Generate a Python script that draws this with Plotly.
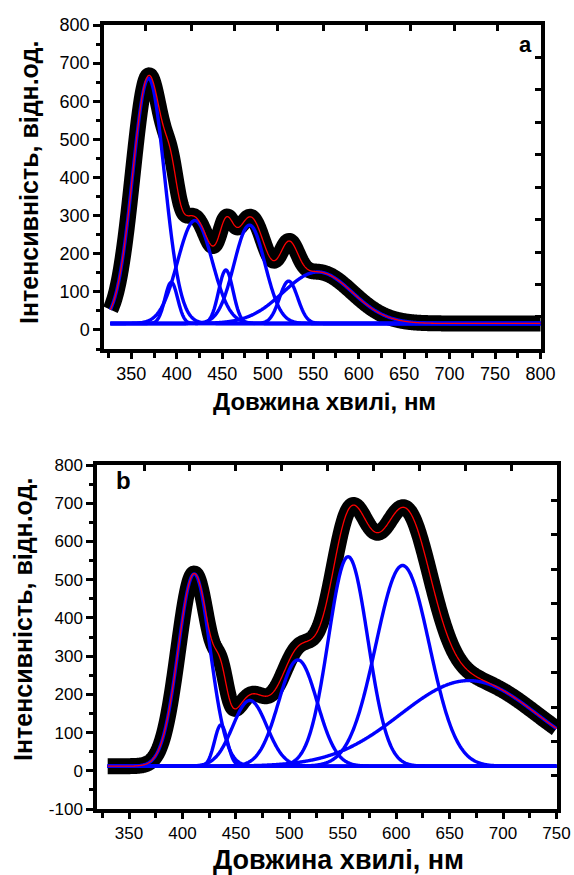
import numpy as np
import plotly.graph_objects as go

# ---------------- data ----------------
# Panel a: Gaussian components of the fitted spectrum (nm, counts)
wl_a = [327, 800]                      # measured wavelength span
base_a = 17                            # common baseline
cent_a = [369, 394, 420, 454, 480, 523, 555]
amp_a = [643, 108, 270, 140, 258, 111, 135]
sig_a = [17.5, 7, 19, 8, 17, 10, 38]

# Panel b
wl_b = [330, 750]
base_b = 12
cent_b = [411, 436, 463, 508, 555, 606, 668]
amp_b = [503, 108, 172, 278, 548, 525, 224]
sig_b = [15, 6, 16, 18, 18.5, 25, 64]

x_ticks_a = [350, 400, 450, 500, 550, 600, 650, 700, 750, 800]
y_ticks_a = [0, 100, 200, 300, 400, 500, 600, 700, 800]
x_ticks_b = [350, 400, 450, 500, 550, 600, 650, 700, 750]
y_ticks_b = [-100, 0, 100, 200, 300, 400, 500, 600, 700, 800]

y_title = "Інтенсивність, відн.од."
x_title = "Довжина хвилі, нм"

# ---------------- figure ----------------
W, H = 574, 875
fig = go.Figure()


def add_panel(wl, base, cents, amps, sigs, xa, ya, band):
    x = np.arange(wl[0], wl[1] + 0.25, 0.5)
    comps = [A * np.exp(-(x - c) ** 2 / (2 * s ** 2)) for c, A, s in zip(cents, amps, sigs)]
    fit = base + np.sum(comps, axis=0)
    # measured (noisy) spectrum drawn as a wide black stroke along the fit
    fig.add_trace(go.Scatter(x=x, y=fit, mode="lines",
                             line=dict(color="black", width=band, simplify=False),
                             xaxis=xa, yaxis=ya, hoverinfo="skip", showlegend=False))
    for comp in comps:
        fig.add_trace(go.Scatter(x=x, y=base + comp, mode="lines",
                                 line=dict(color="#0000FF", width=3.4, simplify=False),
                                 xaxis=xa, yaxis=ya, showlegend=False))
    fig.add_trace(go.Scatter(x=x, y=fit, mode="lines",
                             line=dict(color="#FF0000", width=1.3, simplify=False),
                             xaxis=xa, yaxis=ya, showlegend=False))


add_panel(wl_a, base_a, cent_a, amp_a, sig_a, "x", "y", 16)
add_panel(wl_b, base_b, cent_b, amp_b, sig_b, "x2", "y2", 16)

FONT = "Liberation Sans"


def px_x(p):
    return p / W


def px_y(p):
    return 1 - p / H


common = dict(showline=True, linecolor="black", linewidth=3.5, mirror=True,
              ticks="outside", tickwidth=3, tickcolor="black",
              showgrid=False, zeroline=False, automargin=False)

dom_xa = [px_x(104), px_x(541)]
dom_ya = [px_y(349), px_y(25)]
dom_xb = [px_x(97), px_x(557)]
dom_yb = [px_y(809), px_y(465)]

fig.update_layout(
    width=W, height=H, margin=dict(l=0, r=0, t=0, b=0),
    paper_bgcolor="white", plot_bgcolor="white", showlegend=False,
    xaxis=dict(domain=dom_xa, range=[320, 800.5], anchor="y", tickmode="array",
               tickvals=x_ticks_a, ticktext=[str(v) for v in x_ticks_a], ticklen=6,
               minor=dict(ticks="outside", ticklen=5, tickwidth=3, tickcolor="black",
                          tickmode="linear", tick0=325, dtick=50, showgrid=False),
               tickfont=dict(family=FONT, size=18, color="black"), **common),
    yaxis=dict(domain=dom_ya, range=[-50, 800], anchor="x", tickmode="array",
               tickvals=y_ticks_a, ticktext=[str(v) for v in y_ticks_a], ticklen=7,
               minor=dict(ticks="outside", ticklen=4, tickwidth=3, tickcolor="black",
                          tickmode="linear", tick0=-50, dtick=100, showgrid=False),
               tickfont=dict(family=FONT, size=18, color="black"), **common),
    xaxis2=dict(domain=dom_xb, range=[320, 750.5], anchor="y2", tickmode="array",
                tickvals=x_ticks_b, ticktext=[str(v) for v in x_ticks_b], ticklen=6,
                minor=dict(ticks="outside", ticklen=5, tickwidth=3, tickcolor="black",
                           tickmode="linear", tick0=325, dtick=50, showgrid=False),
                tickfont=dict(family=FONT, size=17, color="black"), **common),
    yaxis2=dict(domain=dom_yb, range=[-100, 800], anchor="x2", tickmode="array",
                tickvals=y_ticks_b, ticktext=[str(v) for v in y_ticks_b], ticklen=7,
                minor=dict(ticks="outside", ticklen=4, tickwidth=3, tickcolor="black",
                           tickmode="linear", tick0=-50, dtick=100, showgrid=False),
                tickfont=dict(family=FONT, size=17, color="black"), **common),
    # inward ticks on the top / right frame
    xaxis3=dict(overlaying="x", side="top", anchor="y", range=[320, 800.5],
                tickmode="array", tickvals=[366, 416, 464, 511, 561, 609, 657, 705, 753],
                ticks="inside", ticklen=6, tickwidth=3, tickcolor="black",
                showticklabels=False, showline=False, showgrid=False, zeroline=False),
    yaxis3=dict(overlaying="y", side="right", anchor="x", range=[-50, 800],
                tickmode="array", tickvals=[714, 630, 544, 461, 374, 289, 203, 118, 34],
                ticks="inside", ticklen=6, tickwidth=3, tickcolor="black",
                showticklabels=False, showline=False, showgrid=False, zeroline=False),
    xaxis4=dict(overlaying="x2", side="top", anchor="y2", range=[320, 750.5],
                tickmode="array", tickvals=[364, 407, 450, 493, 536, 579, 622, 665, 708],
                ticks="inside", ticklen=6, tickwidth=3, tickcolor="black",
                showticklabels=False, showline=False, showgrid=False, zeroline=False),
    yaxis4=dict(overlaying="y2", side="right", anchor="x2", range=[-100, 800],
                tickmode="array", tickvals=[707, 617, 527, 437, 346, 256, 166, 76, -13],
                ticks="inside", ticklen=6, tickwidth=3, tickcolor="black",
                showticklabels=False, showline=False, showgrid=False, zeroline=False),
)

# invisible traces so the overlay axes are rendered
fig.add_trace(go.Scatter(x=[None], y=[None], xaxis="x3", yaxis="y3", showlegend=False))
fig.add_trace(go.Scatter(x=[None], y=[None], xaxis="x4", yaxis="y4", showlegend=False))

ann = [
    dict(text="<b>" + y_title + "</b>", x=px_x(29), y=px_y(183), textangle=-90,
         font=dict(family=FONT, size=25, color="black")),
    dict(text="<b>" + y_title + "</b>", x=px_x(23), y=px_y(620), textangle=-90,
         font=dict(family=FONT, size=25, color="black")),
    dict(text="<b>" + x_title + "</b>", x=px_x(324), y=px_y(401),
         font=dict(family=FONT, size=24, color="black")),
    dict(text="<b>" + x_title + "</b>", x=px_x(338), y=px_y(860),
         font=dict(family=FONT, size=27, color="black")),
    dict(text="<b>a</b>", x=px_x(525), y=px_y(45),
         font=dict(family=FONT, size=22, color="black")),
    dict(text="<b>b</b>", x=px_x(123), y=px_y(480),
         font=dict(family=FONT, size=24, color="black")),
]
for a in ann:
    a.update(xref="paper", yref="paper", showarrow=False, xanchor="center", yanchor="middle")
fig.update_layout(annotations=ann)

fig.write_html("out.html")
